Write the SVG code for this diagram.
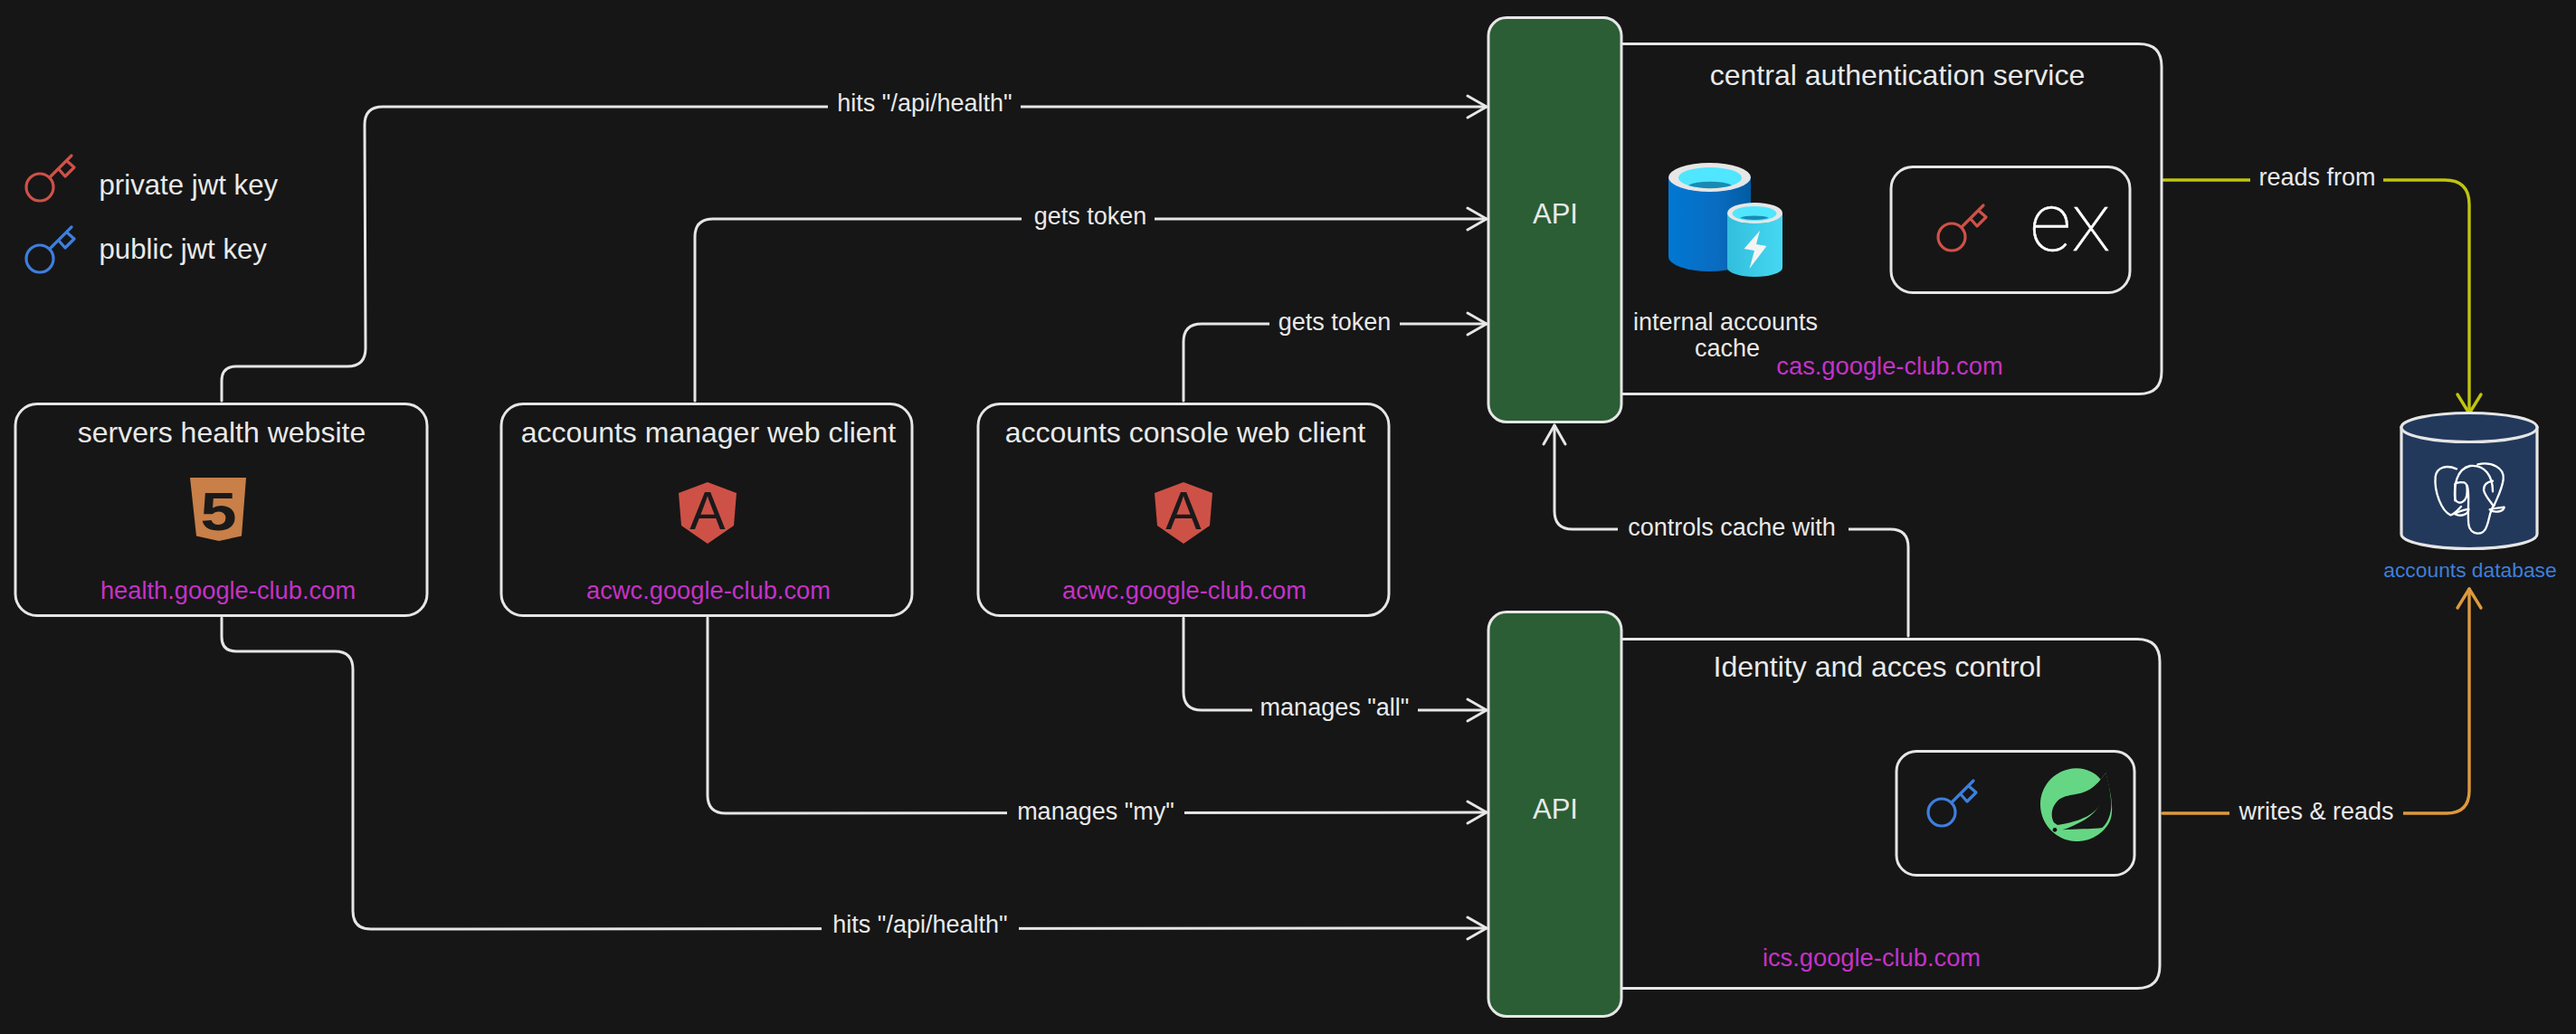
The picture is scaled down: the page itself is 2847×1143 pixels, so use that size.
<svg xmlns="http://www.w3.org/2000/svg" width="2847" height="1143" viewBox="0 0 2847 1143">
<style>
text{font-family:"Liberation Sans",Arial,sans-serif;fill:#e9e9e9;text-anchor:middle}
.title{font-size:32px}
.lab{font-size:27px}
.dom{font-size:27.300px;fill:#c432c8}
.box{fill:#161616;stroke:#e6e6e6;stroke-width:3}
.api{fill:#2b5e35;stroke:#e6e6e6;stroke-width:3}
.conn{fill:none;stroke:#e6e6e6;stroke-width:3;stroke-linecap:round;stroke-linejoin:round}
.gap{fill:#161616;stroke:none}
.key{fill:none;stroke-width:3.200;stroke-linecap:round;stroke-linejoin:round}
.red{stroke:#cf5148}
.blue{stroke:#3d7fdf}
.ele{fill:none;stroke:#fff;stroke-width:7;stroke-linecap:round;stroke-linejoin:round}
</style>
<defs>
<marker id="aw" markerUnits="userSpaceOnUse" markerWidth="30" markerHeight="34" viewBox="-26 -17 30 34" refX="0" refY="0" orient="auto"><path d="M-21-12L0 0L-21 12" fill="none" stroke="#e6e6e6" stroke-width="3" stroke-linecap="round" stroke-linejoin="round"/></marker>
<marker id="ay" markerUnits="userSpaceOnUse" markerWidth="30" markerHeight="34" viewBox="-26 -17 30 34" refX="0" refY="0" orient="auto"><path d="M-21-13L0 0L-21 13" fill="none" stroke="#bfc40f" stroke-width="3.400" stroke-linecap="round" stroke-linejoin="round"/></marker>
<marker id="ao" markerUnits="userSpaceOnUse" markerWidth="30" markerHeight="34" viewBox="-26 -17 30 34" refX="0" refY="0" orient="auto"><path d="M-21-13L0 0L-21 13" fill="none" stroke="#dd9a3d" stroke-width="3.400" stroke-linecap="round" stroke-linejoin="round"/></marker>
<linearGradient id="bigc" x1="0" x2="1" y1="0" y2="0"><stop offset="0" stop-color="#0078d4"/><stop offset="0.6" stop-color="#0a6cc0"/><stop offset="1" stop-color="#005ba1"/></linearGradient>
<linearGradient id="smc" x1="0" x2="1" y1="0" y2="0"><stop offset="0" stop-color="#32bedd"/><stop offset="1" stop-color="#45d8f2"/></linearGradient>
<g id="keyshape"><circle cx="0" cy="0" r="15"/><path d="M11-11L35-35M21-20L28-12L38-22L30-29"/></g>
</defs>
<rect width="2847" height="1143" fill="#161616"/>

<g id="legend">
<use href="#keyshape" class="key red" x="44" y="207"/>
<text x="109.500" y="214.500" style="text-anchor:start;font-size:31.200px">private jwt key</text>
<use href="#keyshape" class="key blue" x="44" y="286"/>
<text x="109.500" y="285.500" style="text-anchor:start;font-size:31.200px">public jwt key</text>
</g>

<g id="connectors">
<path class="conn" marker-end="url(#aw)" d="M245 443V421Q245 405 261 405H384Q404 405 404 385L403 138Q403 118 423 118L1643 118"/>
<path class="conn" marker-end="url(#aw)" d="M768 443V262Q768 242 788 242L1643 242"/>
<path class="conn" marker-end="url(#aw)" d="M1308 443V378Q1308 358 1328 358L1643 358"/>
<path class="conn" marker-end="url(#aw)" d="M245 683V704Q245 720 261 720H370Q390 720 390 740V1007Q390 1027 410 1027L1643 1026"/>
<path class="conn" marker-end="url(#aw)" d="M782 683V879Q782 899 802 899L1643 898"/>
<path class="conn" marker-end="url(#aw)" d="M1308 683V765Q1308 785 1328 785L1643 785"/>
<path class="conn" marker-end="url(#aw)" d="M2109 703V605Q2109 585 2089 585H1738Q1718 585 1718 565V470"/>
<path class="conn" marker-end="url(#ay)" style="stroke:#bfc40f;stroke-width:3.400" d="M2391 199H2702Q2729 199 2729 226V457"/>
<path class="conn" marker-end="url(#ao)" style="stroke:#dd9a3d;stroke-width:3.400" d="M2390 899H2704Q2729 899 2729 874V651"/>
<g id="connector-labels">
<rect class="gap" x="915" y="100" width="213" height="36"/><text class="lab" x="1022" y="123">hits "/api/health"</text>
<rect class="gap" x="1129" y="224" width="147" height="36"/><text class="lab" x="1205" y="248">gets token</text>
<rect class="gap" x="1403" y="340" width="144" height="36"/><text class="lab" x="1475" y="365">gets token</text>
<rect class="gap" x="1384" y="767" width="183" height="36"/><text class="lab" x="1475" y="791">manages "all"</text>
<rect class="gap" x="1113" y="880" width="196" height="36"/><text class="lab" x="1211" y="906">manages "my"</text>
<rect class="gap" x="908" y="1008" width="218" height="36"/><text class="lab" x="1017" y="1031">hits "/api/health"</text>
<rect class="gap" x="1788" y="567" width="255" height="36"/><text class="lab" x="1914" y="592">controls cache with</text>
<rect class="gap" x="2487" y="180" width="147" height="36"/><text class="lab" x="2561" y="205">reads from</text>
<rect class="gap" x="2464" y="880" width="192" height="36"/><text class="lab" x="2560" y="906">writes &amp; reads</text>
</g>
</g>

<g id="servers-health-website">
<rect class="box" x="17" y="446.500" width="455" height="234" rx="24"/>
<text class="title" x="245" y="488.500">servers health website</text>
<path d="M210 528H272L267 592.500L242 598L217 592.500Z" fill="#c87f48"/>
<text x="241.500" y="586" transform="translate(241.500 586) scale(1.2 1) translate(-241.500 -586)" style="font-size:60px;font-weight:700;fill:#1a1a1a">5</text>
<text class="dom" x="252" y="661.500">health.google-club.com</text>
</g>

<g id="accounts-manager-web-client">
<rect class="box" x="554" y="446.500" width="454" height="234" rx="24"/>
<text class="title" x="783" y="488.500">accounts manager web client</text>
<path d="M782 533L814 545L811 581L782 601L753 581L750 545Z" fill="#ce5147"/>
<text x="782" y="585" style="font-size:59px;fill:#1a1a1a">A</text>
<text class="dom" x="783" y="661.500">acwc.google-club.com</text>
</g>

<g id="accounts-console-web-client">
<rect class="box" x="1081" y="446.500" width="454" height="234" rx="24"/>
<text class="title" x="1310" y="488.500">accounts console web client</text>
<path d="M1308 533L1340 545L1337 581L1308 601L1279 581L1276 545Z" fill="#ce5147"/>
<text x="1308" y="585" style="font-size:59px;fill:#1a1a1a">A</text>
<text class="dom" x="1309" y="661.500">acwc.google-club.com</text>
</g>

<g id="central-authentication-service">
<path class="box" d="M1780 48.500H2364Q2389 48.500 2389 73.500V410.500Q2389 435.500 2364 435.500H1780Z"/>
<text class="title" x="2097" y="93.500">central authentication service</text>
<g id="cache-icon">
<path d="M1844 196V284A45.500 16 0 0 0 1935 284V196Z" fill="url(#bigc)"/>
<ellipse cx="1889.500" cy="196" rx="45.500" ry="16" fill="#e6e6e6"/>
<ellipse cx="1890" cy="196.500" rx="35" ry="11.500" fill="#50e6ff"/>
<path d="M1866 205A26 7 0 0 1 1914 205A35 11.500 0 0 1 1866 205Z" fill="#198ab3"/>
<path d="M1909 235.500V296A30.500 10 0 0 0 1970 296V235.500Z" fill="url(#smc)"/>
<ellipse cx="1939.500" cy="235.500" rx="30.500" ry="11.500" fill="#e6e6e6"/>
<ellipse cx="1939" cy="236" rx="24.500" ry="8" fill="#50e6ff"/>
<path d="M1923 241A18 4.500 0 0 1 1955 241A24.500 8 0 0 1 1923 241Z" fill="#198ab3"/>
<path d="M1945 255L1927.500 275L1939 277L1933.500 297L1952.500 272L1941 270Z" fill="#f4f4f4"/>
</g>
<text class="lab" x="1907" y="365">internal accounts</text>
<text class="lab" x="1909" y="394">cache</text>
<rect class="box" x="2090" y="184.500" width="264" height="139" rx="24"/>
<use href="#keyshape" class="key red" x="2157" y="262"/>
<text x="2288" y="277" style="font-family:Roboto,'Liberation Sans',sans-serif;font-weight:100;font-size:91px;fill:#fff;stroke:#fff;stroke-width:.5">ex</text>
<text class="dom" x="2088.500" y="413.500">cas.google-club.com</text>
</g>

<g id="api-top">
<rect class="api" x="1645" y="19.500" width="147" height="447" rx="20"/>
<text x="1719" y="247" style="font-size:31px">API</text>
</g>

<g id="identity-and-acces-control">
<path class="box" d="M1780 706.500H2362Q2387 706.500 2387 731.500V1067.500Q2387 1092.500 2362 1092.500H1780Z"/>
<text class="title" x="2075" y="747.500">Identity and acces control</text>
<rect class="box" x="2096" y="830.500" width="263" height="137" rx="22"/>
<use href="#keyshape" class="key blue" x="2146" y="898"/>
<g id="spring-icon" transform="translate(2090 820) scale(.33333)">
<path fill="#65d784" d="M712 103C725 160 745 230 722 270C695 315 650 330 615 330C550 330 495 275 495 208C495 140 550 88 615 88C650 88 680 105 695 125Z"/>
<path fill="#161616" d="M712 103C692 130 670 160 630 170C590 178 560 180 545 205C530 225 530 250 540 268L552 276C625 265 695 240 703 177C695 232 640 268 568 292C620 288 670 290 700 285C725 265 735 220 728 185C725 150 717 120 712 103Z"/>
<circle cx="543" cy="292" r="7" fill="#0c0c0c"/>
</g>
<text class="dom" x="2068.500" y="1067.500">ics.google-club.com</text>
</g>

<g id="api-bottom">
<rect class="api" x="1645" y="676.500" width="147" height="447" rx="20"/>
<text x="1719" y="904.500" style="font-size:31px">API</text>
</g>

<g id="accounts-database">
<path d="M2654 472.500V590.500A75 16 0 0 0 2804 590.500V472.500Z" fill="#22395c" stroke="#e6e6e6" stroke-width="3.200"/>
<ellipse cx="2729" cy="472.500" rx="75" ry="16" fill="#22395c" stroke="#e6e6e6" stroke-width="3.200"/>
<g transform="translate(2380 160) scale(.33333)">
<path class="ele" d="M1005 1075C970 1060 940 1070 935 1100C930 1150 955 1215 985 1228C1000 1225 1010 1210 1020 1200"/>
<path class="ele" d="M1000 1180C995 1130 1005 1075 1050 1065C1100 1060 1125 1100 1125 1150"/>
<path class="ele" d="M1040 1130C1050 1160 1040 1210 1045 1260C1050 1295 1095 1300 1105 1265C1115 1240 1115 1210 1130 1195"/>
<path class="ele" d="M1075 1060C1120 1050 1165 1070 1160 1110C1155 1145 1140 1170 1130 1195"/>
<path class="ele" d="M1000 1225C1020 1235 1045 1225 1045 1208C1025 1212 1010 1215 1000 1225"/>
<path class="ele" d="M1115 1210C1130 1222 1160 1218 1163 1202C1145 1205 1130 1205 1115 1210"/>
<path class="ele" d="M1000 1125L1000 1175C1010 1195 1040 1190 1040 1150C1040 1130 1040 1125 1030 1120C1015 1118 1005 1120 1000 1125"/>
<path class="ele" d="M1125 1115C1105 1120 1095 1125 1095 1145C1100 1165 1115 1180 1125 1195"/>
</g>
<text x="2730" y="637.500" style="font-size:22.800px;fill:#3d7fdf">accounts database</text>
</g>
</svg>
